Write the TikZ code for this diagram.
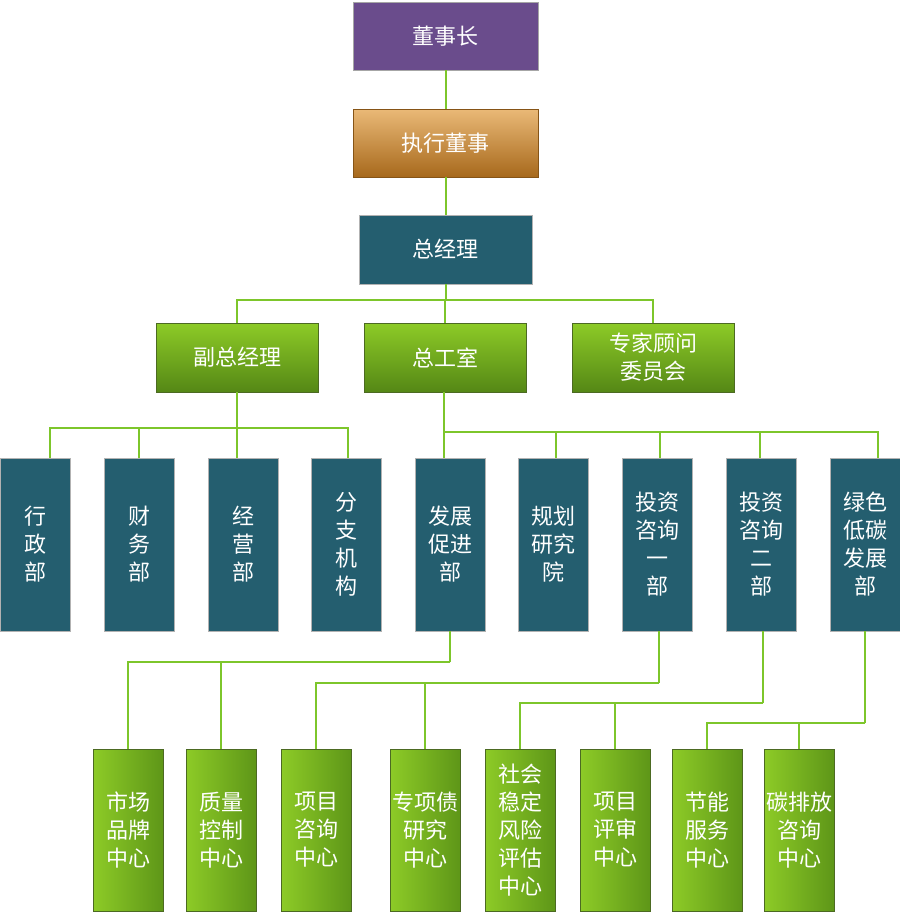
\documentclass[tikz,border=0pt]{standalone}
\usepackage{fontspec}
\newfontfamily\cjk{Noto Sans CJK SC}
\definecolor{chairpurple}{HTML}{6A4C8C}
\definecolor{execlight}{HTML}{EAB977}
\definecolor{execdark}{HTML}{A7691C}
\definecolor{deptteal}{HTML}{245E6F}
\definecolor{leaflight}{HTML}{8DCB27}
\definecolor{leafdark}{HTML}{5E9618}
\definecolor{leafline}{HTML}{4C6A22}
\definecolor{linkgreen}{HTML}{7DC62B}
\tikzset{
  box/.style={draw, inner sep=0pt, align=center, text=white, font=\cjk\fontsize{22}{28}\selectfont},
  chairbox/.style={box, fill=chairpurple, draw=gray!70, minimum width=185pt, minimum height=68pt},
  execbox/.style={box, top color=execlight, bottom color=execdark, draw=execdark!80!black, minimum width=185pt, minimum height=68pt},
  mgrbox/.style={box, fill=deptteal, draw=gray!60, minimum width=173pt, minimum height=69pt},
  deputybox/.style={box, top color=leaflight, bottom color=leafdark!90!black, draw=leafline, minimum width=162pt, minimum height=69pt},
  deptbox/.style={box, fill=deptteal, draw=gray!60, minimum width=70pt, minimum height=173pt},
  centrebox/.style={box, left color=leaflight, right color=leafdark, draw=leafline, minimum width=70pt, minimum height=162pt},
  link/.style={draw=linkgreen, line width=1.8pt}
}
\begin{document}
\begin{tikzpicture}[x=1pt,y=-1pt]
  \useasboundingbox (0,0) rectangle (900,922);
  \node[chairbox] (dsz) at (445.5,36) {董事长};
  \node[execbox] (zxds) at (445.5,143) {执行董事};
  \node[mgrbox] (zjl) at (445.5,249.5) {总经理};
  \node[deputybox] (fzjl) at (237,357.5) {副总经理};
  \node[deputybox] (zgs) at (445,357.5) {总工室};
  \node[deputybox] (zjgw) at (653,357.5) {专家顾问\\委员会};
  \foreach \n/\x/\t in {d1/35/行\\政\\部, d2/139/财\\务\\部, d3/243/经\\营\\部,
      d4/346/分\\支\\机\\构, d5/450/发展\\促进\\部, d6/553/规划\\研究\\院,
      d7/657/投资\\咨询\\一\\部, d8/761/投资\\咨询\\二\\部, d9/865/绿色\\低碳\\发展\\部}
    \node[deptbox] (\n) at (\x,544.5) {\t};
  \foreach \n/\x/\t in {c1/128/市场\\品牌\\中心, c2/221/质量\\控制\\中心, c3/316/项目\\咨询\\中心,
      c4/425/专项债\\研究\\中心, c5/520/社会\\稳定\\风险\\评估\\中心, c6/615/项目\\评审\\中心,
      c7/707/节能\\服务\\中心, c8/799/碳排放\\咨询\\中心}
    \node[centrebox] (\n) at (\x,830) {\t};

  \coordinate (a0) at (446,300);
  \draw[link] (dsz.south -| a0) -- (zxds.north -| a0);
  \draw[link] (zxds.south -| a0) -- (zjl.north -| a0);
  \draw[link] (zjl.south -| a0) -- (a0);
  \foreach \n in {fzjl,zgs,zjgw} \draw[link] (a0) -| (\n.north);

  \coordinate (a1) at (237,428);
  \draw[link] (fzjl) -- (a1);
  \foreach \n/\s in {d1/15,d2/0,d3/-6,d4/2} \draw[link] (a1) -| ([xshift=\s pt]\n.north);
  \coordinate (a2) at (444,432);
  \draw[link] (zgs.south -| a2) -- (a2);
  \foreach \n/\s in {d5/-6,d6/3,d7/3,d8/-1,d9/13} \draw[link] (a2) -| ([xshift=\s pt]\n.north);

  \coordinate (g1) at (450,662);
  \draw[link] (d5) -- (g1);
  \foreach \n in {c1,c2} \draw[link] (g1) -| (\n.north);
  \coordinate (g2) at (659,683);
  \draw[link] ([xshift=2pt]d7.south) -- (g2);
  \foreach \n in {c3,c4} \draw[link] (g2) -| (\n.north);
  \coordinate (g3) at (763,703);
  \draw[link] ([xshift=2pt]d8.south) -- (g3);
  \foreach \n in {c5,c6} \draw[link] (g3) -| (\n.north);
  \coordinate (g4) at (865,723);
  \draw[link] (d9) -- (g4);
  \foreach \n in {c7,c8} \draw[link] (g4) -| (\n.north);
\end{tikzpicture}
\end{document}
